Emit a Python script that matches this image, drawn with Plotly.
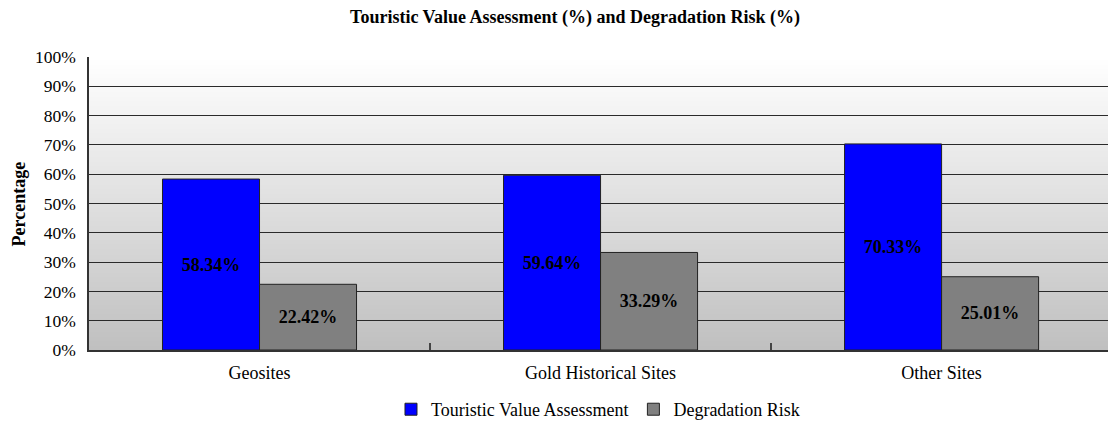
import base64
import struct
import zlib

import plotly.graph_objects as go

categories = ["Geosites", "Gold Historical Sites", "Other Sites"]
touristic_value = [58.34, 59.64, 70.33]
degradation_risk = [22.42, 33.29, 25.01]
tick_vals = [0, 10, 20, 30, 40, 50, 60, 70, 80, 90, 100]
tick_text = [f"{v}%" for v in tick_vals]

FONT = "Liberation Serif, Times New Roman, serif"


def gradient_png(h=256, top=255, bottom=192):
    rows = b""
    for i in range(h):
        t = i / (h - 1)
        g = int(round(top + (bottom - top) * t))
        rows += b"\x00" + bytes([g, g, g])
    def chunk(tag, data):
        c = struct.pack(">I", len(data)) + tag + data
        return c + struct.pack(">I", zlib.crc32(tag + data) & 0xFFFFFFFF)
    png = b"\x89PNG\r\n\x1a\n"
    png += chunk(b"IHDR", struct.pack(">IIBBBBB", 1, h, 8, 2, 0, 0, 0))
    png += chunk(b"IDAT", zlib.compress(rows))
    png += chunk(b"IEND", b"")
    return "data:image/png;base64," + base64.b64encode(png).decode()


fig = go.Figure()
fig.add_trace(go.Bar(
    name="Touristic Value Assessment", x=categories, y=touristic_value,
    marker=dict(color="#0000ff", line=dict(color="#222222", width=1)),
    text=[f"<b>{v:.2f}%</b>" for v in touristic_value],
    textposition="inside", insidetextanchor="middle",
    textfont=dict(family=FONT, size=18, color="black"),
))
fig.add_trace(go.Bar(
    name="Degradation Risk", x=categories, y=degradation_risk,
    marker=dict(color="#808080", line=dict(color="#222222", width=1)),
    text=[f"<b>{v:.2f}%</b>" for v in degradation_risk],
    textposition="inside", insidetextanchor="middle",
    textfont=dict(family=FONT, size=18, color="black"),
))

fig.update_layout(
    width=1108, height=421,
    margin=dict(l=89, r=0, t=57, b=71, autoexpand=False),
    paper_bgcolor="white", plot_bgcolor="rgba(0,0,0,0)",
    font=dict(family=FONT, size=18, color="black"),
    title=dict(text="<b>Touristic Value Assessment (%) and Degradation Risk (%)</b>",
               x=0.519, xanchor="center", y=0.96, yanchor="middle",
               font=dict(family=FONT, size=18, color="black")),
    barmode="group", bargap=0.431, bargroupgap=0,
    images=[dict(source=gradient_png(), xref="paper", yref="paper",
                 x=0, y=1, sizex=1, sizey=1, xanchor="left", yanchor="top",
                 sizing="stretch", layer="below")],
    showlegend=True,
    legend=dict(orientation="h", x=0.4995, xanchor="center", y=-0.14, yanchor="top",
                font=dict(family=FONT, size=18, color="black"),
                itemwidth=30, tracegroupgap=0),
    annotations=[dict(text="<b>Percentage</b>", xref="paper", yref="paper",
                      x=-0.0687, y=0.5, xanchor="center", yanchor="middle",
                      textangle=-90, showarrow=False,
                      font=dict(family=FONT, size=18, color="black"))],
    xaxis=dict(range=[-0.5, 2.488], automargin=False,
               showline=True, linecolor="#333333", linewidth=1.5, mirror=False,
               ticks="inside", tickson="boundaries", ticklen=7, tickwidth=2,
               tickcolor="#444444", ticklabelstandoff=6,
               tickfont=dict(family=FONT, size=18, color="black"),
               showgrid=False),
    yaxis=dict(range=[0, 100], tickvals=tick_vals, ticktext=tick_text, automargin=False,
               showline=True, linecolor="#333333", linewidth=1.5, mirror=False,
               showgrid=True, gridcolor="#2a2a2a", gridwidth=1.2,
               ticks="", ticklabelstandoff=8,
               tickfont=dict(family=FONT, size=17.5, color="black"),
               zeroline=False),
)

fig.write_html("out.html", config={"displayModeBar": False},
               post_script="document.body.style.margin='0';document.body.style.padding='0';")
